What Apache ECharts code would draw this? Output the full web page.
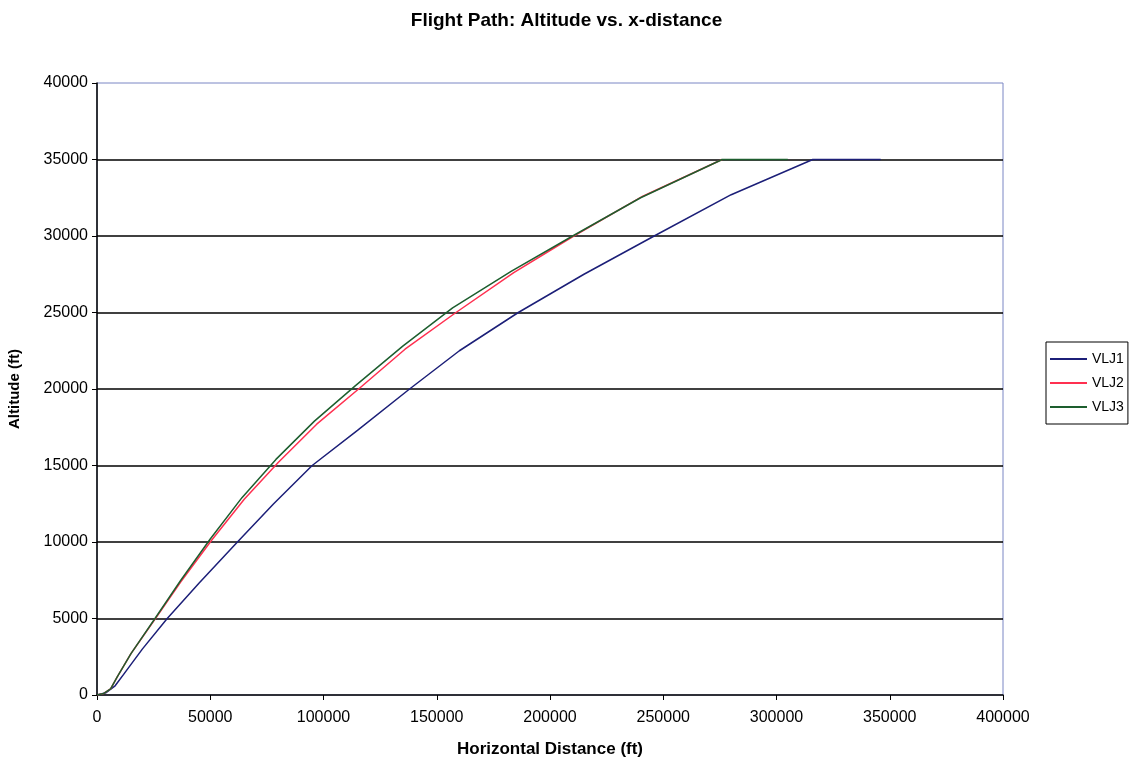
<!DOCTYPE html>
<html>
<head>
<meta charset="utf-8">
<script src="https://cdn.jsdelivr.net/npm/echarts@6/dist/echarts.min.js"></script>
<style>
  html, body { margin: 0; padding: 0; background: #fff; }
  #chart { width: 1133px; height: 761px; }
</style>
</head>
<body>
<div id="chart"></div>
<script>
// 各航线的 [水平距离, 高度] 点
var vlj1 = [[0, 0], [4000, 150], [8000, 600], [12000, 1400], [20000, 3000], [31000, 5000],
  [45000, 7300], [62000, 10000], [78000, 12500], [95000, 15000], [115000, 17300],
  [138000, 20000], [160000, 22500], [186000, 25000], [215000, 27500], [246000, 30000],
  [280000, 32700], [316000, 35000], [346000, 35000]];
var vlj2 = [[0, 0], [3000, 100], [6000, 400], [9000, 1200], [15000, 2700], [25800, 5000],
  [37000, 7400], [50500, 10100], [65000, 12800], [80000, 15200], [97000, 17700],
  [115500, 20000], [136000, 22600], [158500, 25000], [184000, 27600], [210500, 30000],
  [241000, 32600], [276000, 35000]];
var vlj3 = [[0, 0], [3000, 100], [6000, 400], [9000, 1200], [15000, 2700], [25600, 5000],
  [37000, 7500], [50000, 10200], [64000, 12900], [79000, 15400], [96000, 17900],
  [114000, 20200], [135000, 22800], [157000, 25300], [183000, 27700], [210000, 30000],
  [240000, 32500], [276000, 35000], [305000, 35000]];
var seriesNames = ['VLJ1', 'VLJ2', 'VLJ3'];
var seriesColors = ['#1c1f78', '#ff3050', '#1d5e2e'];

var myChart = echarts.init(document.getElementById('chart'));
var font = 'Liberation Sans, Arial, sans-serif';
function plain(v) { return String(v); }
option = {
  animation: false,
  title: {
    text: 'Flight Path: Altitude vs. x-distance',
    left: 'center',
    top: 6,
    textStyle: { fontFamily: font, fontSize: 19, fontWeight: 'bold', color: '#000' }
  },
  grid: {
    left: 97, right: 130, top: 83, bottom: 66,
    outerBoundsMode: 'none', containLabel: false,
    show: true, borderColor: '#7b86c4', borderWidth: 1
  },
  legend: {
    orient: 'vertical',
    left: 1046, top: 342,
    borderColor: '#000', borderWidth: 1,
    padding: [10, 4, 10, 4],
    itemGap: 10,
    icon: 'rect', itemWidth: 37, itemHeight: 2,
    textStyle: { fontFamily: font, fontSize: 14, color: '#000' },
    data: seriesNames
  },
  xAxis: {
    type: 'value', min: 0, max: 400000, interval: 50000,
    name: 'Horizontal Distance (ft)', nameLocation: 'middle', nameGap: 46,
    nameTextStyle: { fontFamily: font, fontSize: 17, fontWeight: 'bold', color: '#000' },
    axisLine: { show: true, lineStyle: { color: '#000', width: 1.5 } },
    axisTick: { show: true, length: 5, lineStyle: { color: '#000' } },
    axisLabel: { fontFamily: font, fontSize: 16, color: '#000', margin: 15, formatter: plain },
    splitLine: { show: false }
  },
  yAxis: {
    type: 'value', min: 0, max: 40000, interval: 5000,
    name: 'Altitude (ft)', nameLocation: 'middle', nameGap: 75,
    nameTextStyle: { fontFamily: font, fontSize: 15, fontWeight: 'bold', color: '#000' },
    axisLine: { show: true, lineStyle: { color: '#000', width: 1.5 } },
    axisTick: { show: true, length: 5, lineStyle: { color: '#000' } },
    axisLabel: { fontFamily: font, fontSize: 16, color: '#000', margin: 9, formatter: plain },
    splitLine: { show: true, showMinLine: false, showMaxLine: false, lineStyle: { color: '#000', width: 1.5 } }
  },
  series: [
    { name: seriesNames[0], type: 'line', data: vlj1, symbol: 'none',
      lineStyle: { color: seriesColors[0], width: 1.5 }, itemStyle: { color: seriesColors[0] } },
    { name: seriesNames[1], type: 'line', data: vlj2, symbol: 'none',
      lineStyle: { color: seriesColors[1], width: 1.5 }, itemStyle: { color: seriesColors[1] } },
    { name: seriesNames[2], type: 'line', data: vlj3, symbol: 'none',
      lineStyle: { color: seriesColors[2], width: 1.5 }, itemStyle: { color: seriesColors[2] } }
  ]
};
myChart.setOption(option);
</script>
</body>
</html>
